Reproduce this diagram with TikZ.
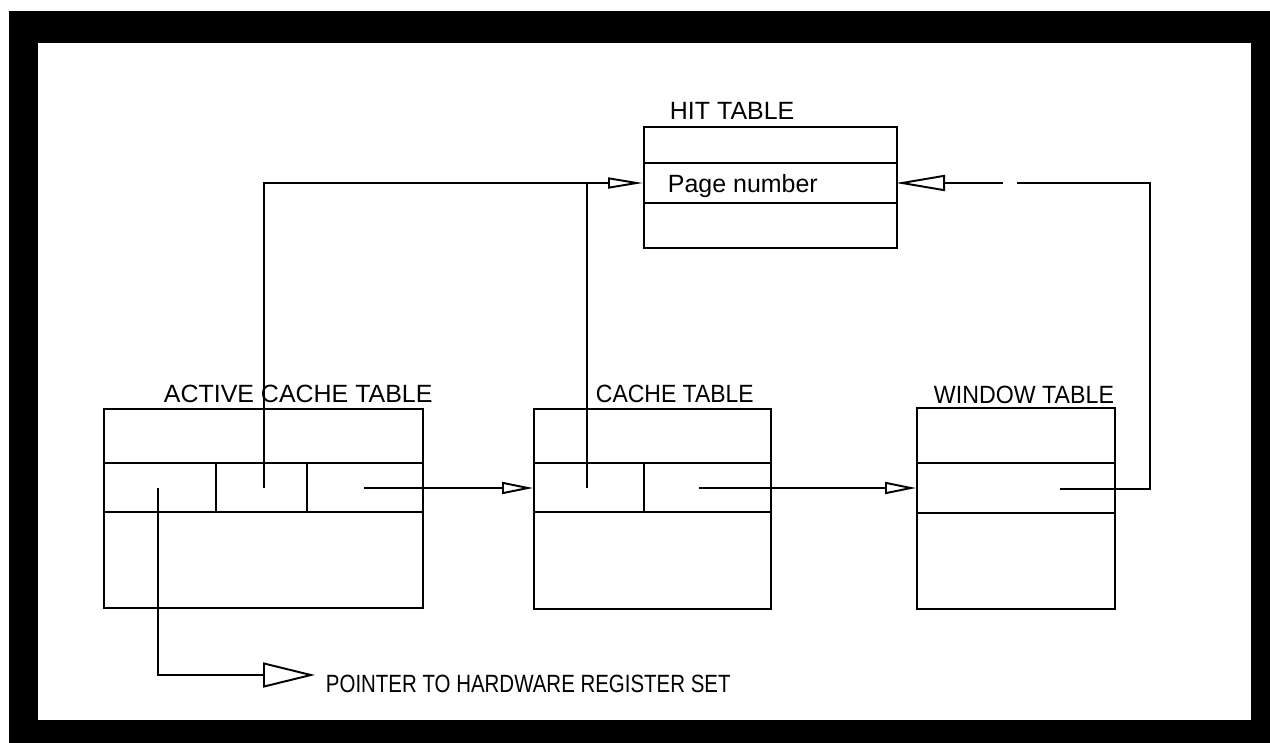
\documentclass[tikz,border=0pt]{standalone}
\usepackage{fontspec}
\setmainfont{Liberation Sans}
\usetikzlibrary{arrows.meta}
\begin{document}
\begin{tikzpicture}[x=0.02cm,y=-0.02cm,line width=1.1pt,
  lbl/.style={anchor=base west,inner sep=0pt,font=\fontsize{14.2}{17}\selectfont},
  tbl/.style={draw,line width=1.1pt,inner sep=0pt,anchor=north west},
  arrM/.style={-{Triangle[open,length=0.62cm,width=0.24cm,line width=1.1pt]}},
  arrHL/.style={-{Triangle[open,length=0.7cm,width=0.22cm,line width=1.1pt]}},
  arrHR/.style={-{Triangle[open,length=0.98cm,width=0.32cm,line width=1.1pt]}},
  arrP/.style={-{Triangle[open,length=1.04cm,width=0.5cm,line width=1.1pt]}}]
\useasboundingbox (0,0) rectangle (1270,743);
\fill[white] (0,0) rectangle (1270,743);
% frame
\fill[black] (9,11) rectangle (1270,743);
\fill[white] (38,43) rectangle (1251,720);

% HIT TABLE
\node[tbl,minimum width=5.06cm,minimum height=2.42cm] (hit) at (643,126) {};
\draw (643,163) -- (896,163);
\draw (643,203) -- (896,203);
\node[lbl] (hitlbl) at (669,120) {HIT TABLE};
\node[lbl] (pagenum) at (667,193) {Page number};
\coordinate (hitL) at (643,183);
\coordinate (hitR) at (896,183);

% ACTIVE CACHE TABLE
\node[tbl,minimum width=6.38cm,minimum height=3.98cm] (act) at (103,408) {};
\draw (103,463) -- (422,463);
\draw (103,512) -- (422,512);
\draw (216,463) -- (216,512);
\draw (307,463) -- (307,512);
\node[lbl] (actlbl) at (163,402) {ACTIVE CACHE TABLE};
\coordinate (actA) at (158,488);
\coordinate (actB) at (264,488);
\coordinate (actC) at (364,488);

% CACHE TABLE
\node[tbl,minimum width=4.74cm,minimum height=4.0cm] (cache) at (533,408) {};
\draw (533,463) -- (770,463);
\draw (533,512) -- (770,512);
\draw (644,463) -- (644,512);
\node[lbl] (cachelbl) at (595,402) {\scalebox{0.92}[1]{CACHE TABLE}};
\coordinate (cacheL) at (533,488);
\coordinate (cacheA) at (587,488);
\coordinate (cacheB) at (699,488);

% WINDOW TABLE
\node[tbl,minimum width=3.96cm,minimum height=4.02cm] (win) at (916,407) {};
\draw (916,463) -- (1114,463);
\draw (916,513) -- (1114,513);
\node[lbl] (winlbl) at (933,403) {\scalebox{0.93}[1]{WINDOW TABLE}};
\coordinate (winL) at (916,488);
\coordinate (winA) at (1060,489);

% pointer label
\node[lbl] (ptr) at (325,692) {\scalebox{0.82}[1]{POINTER TO HARDWARE REGISTER SET}};
\coordinate (ptrtip) at (315,675);

% connectors
\draw[arrHL] (actB) |- (hitL);
\draw (cacheA) -- (cacheA |- hitL);
\draw[arrM] (actC) -- (cacheL);
\draw[arrM] (cacheB) -- (winL);
\coordinate (wc) at (1150,489);
\coordinate (wt) at (1150,183);
\coordinate (g1) at (1017,183);
\coordinate (g2) at (1003,183);
\draw[arrHR] (winA) -- (wc) -- (wt) -- (g1) (g2) -- (hitR);
\draw[arrP] (actA) |- (ptrtip);
\end{tikzpicture}
\end{document}
